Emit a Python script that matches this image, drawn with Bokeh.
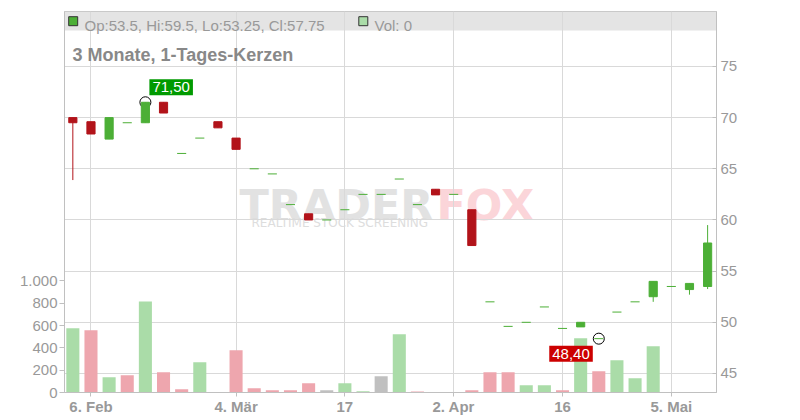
from bokeh.plotting import figure
from bokeh.models import Range1d, LinearAxis, FixedTicker, Label, BoxAnnotation, ColumnDataSource
from bokeh.embed import file_html
from bokeh.resources import INLINE

# ---------------- data ----------------
opens = [70.0, 69.6, 67.9, 69.5, 69.5, 71.5, 66.5, 68.0, 69.6, 68.0,
         65.0, 64.5, 61.5, 60.6, 60.0, 61.0, 62.5, 62.5, 64.0, 61.5,
         63.0, 62.5, 61.0, 52.0, 49.6, 50.0, 51.5, 49.4, 49.55, 48.4,
         51.0, 52.0, 52.5, 53.5, 53.2, 53.5]
highs = [70.0, 69.6, 70.0, 69.5, 71.5, 71.5, 66.5, 68.0, 69.6, 68.0,
         65.0, 64.5, 61.5, 60.6, 60.0, 61.0, 62.5, 62.5, 64.0, 61.5,
         63.0, 62.5, 61.0, 52.0, 49.6, 50.0, 51.5, 49.4, 50.0, 48.4,
         51.0, 52.0, 54.0, 53.5, 53.8, 59.5]
lows = [63.9, 68.4, 67.9, 69.5, 69.5, 70.45, 66.5, 68.0, 69.0, 66.9,
        65.0, 64.5, 61.5, 60.0, 60.0, 61.0, 62.5, 62.5, 64.0, 61.5,
        62.45, 62.5, 57.5, 52.0, 49.6, 50.0, 51.5, 49.4, 49.55, 48.4,
        51.0, 52.0, 52.0, 53.5, 52.7, 53.25]
closes = [69.5, 68.4, 70.0, 69.5, 71.5, 70.45, 66.5, 68.0, 69.0, 66.9,
          65.0, 64.5, 61.5, 60.0, 60.0, 61.0, 62.5, 62.5, 64.0, 61.5,
          62.45, 62.5, 57.5, 52.0, 49.6, 50.0, 51.5, 49.4, 50.0, 48.4,
          51.0, 52.0, 54.0, 53.5, 53.8, 57.75]
volumes = [575, 558, 137, 155, 815, 182, 30, 272, 0, 379,
           38, 20, 20, 83, 20, 83, 12, 146, 522, 10,
           0, 0, 20, 182, 182, 65, 65, 20, 487, 191,
           289, 128, 415, 0, 0, 0]
tick_idx = [1, 9, 15, 21, 27, 33]
tick_labels = ["6. Feb", "4. Mär", "17", "2. Apr", "16", "5. Mai"]
price_ticks = [45, 50, 55, 60, 65, 70, 75]
vol_ticks = [0, 200, 400, 600, 800, 1000]
vol_tick_labels = ["0", "200", "400", "600", "800", "1.000"]
title_text = "3 Monate, 1-Tages-Kerzen"

# ---------------- style / layout ----------------
GREEN = "#4caf36"
RED = "#b2131a"
VGREEN = "#aadca8"
VRED = "#eea6ae"
VGRAY = "#c0c0c0"
AXIS_GRAY = "#c0c0c0"
GRID = "#d9d9d9"
TXT = "#999999"
FONT = "Liberation Sans"

X_LO, X_HI = -0.46, 35.49
Y_LO, Y_HI = 43.14, 80.37
V_HI = 3415
FRAME_L, FRAME_T, FRAME_W, FRAME_H = 64, 11, 652, 381
FIG_W, FIG_H = 800, 420


def xd(px):
    return X_LO + (px - FRAME_L) * (X_HI - X_LO) / FRAME_W


def yd(py):
    return Y_HI - (py - FRAME_T) * (Y_HI - Y_LO) / FRAME_H


n = len(closes)
xs = list(range(n))
ccol = [GREEN if c >= o else RED for o, c in zip(opens, closes)]
vcol = []
for i in range(n):
    if i == 0 or closes[i] > closes[i - 1]:
        vcol.append(VGREEN)
    elif closes[i] < closes[i - 1]:
        vcol.append(VRED)
    else:
        vcol.append(VGRAY)

p = figure(width=FIG_W, height=FIG_H, output_backend="svg", toolbar_location=None,
           x_range=Range1d(X_LO, X_HI), y_range=Range1d(Y_LO, Y_HI),
           y_axis_location="right",
           min_border_left=FRAME_L, min_border_right=FIG_W - FRAME_L - FRAME_W,
           min_border_top=FRAME_T, min_border_bottom=FIG_H - FRAME_T - FRAME_H)
p.extra_y_ranges = {"vol": Range1d(0, V_HI)}
p.background_fill_color = "white"
p.border_fill_color = "white"
p.outline_line_color = AXIS_GRAY

# grids
p.xgrid.ticker = FixedTicker(ticks=tick_idx)
p.ygrid.ticker = FixedTicker(ticks=price_ticks)
p.xgrid.grid_line_color = GRID
p.ygrid.grid_line_color = GRID

# price axis (right)
ya = p.yaxis[0]
ya.ticker = FixedTicker(ticks=price_ticks)
ya.major_tick_in = 4
ya.major_tick_out = 0
ya.minor_tick_line_color = None
ya.axis_line_color = AXIS_GRAY
ya.major_tick_line_color = AXIS_GRAY
ya.major_label_text_color = TXT
ya.major_label_text_font = FONT
ya.major_label_text_font_size = "15px"
ya.major_label_standoff = 4

# volume axis (left)
va = LinearAxis(y_range_name="vol", ticker=FixedTicker(ticks=vol_ticks),
                major_label_overrides={t: l for t, l in zip(vol_ticks, vol_tick_labels)})
va.major_tick_in = 0
va.major_tick_out = 5
va.minor_tick_line_color = None
va.axis_line_color = AXIS_GRAY
va.major_tick_line_color = AXIS_GRAY
va.major_label_text_color = TXT
va.major_label_text_font = FONT
va.major_label_text_font_size = "15px"
va.major_label_standoff = 2
p.add_layout(va, "left")

# x axis
xa = p.xaxis[0]
xa.ticker = FixedTicker(ticks=tick_idx)
xa.major_label_overrides = {t: l for t, l in zip(tick_idx, tick_labels)}
xa.major_tick_in = 0
xa.major_tick_out = 4
xa.minor_tick_line_color = None
xa.axis_line_color = AXIS_GRAY
xa.major_tick_line_color = AXIS_GRAY
xa.major_label_text_color = TXT
xa.major_label_text_font = FONT
xa.major_label_text_font_size = "15px"
xa.major_label_text_font_style = "bold"
xa.major_label_standoff = 1

# header band + watermark
p.add_layout(BoxAnnotation(bottom=yd(30), fill_color="#e4e4e4", fill_alpha=1.0,
                           line_alpha=0, level="image"))
p.add_layout(Label(x=xd(239), y=yd(204), text="TRADER", text_font="DejaVu Sans",
                   text_font_style="bold", text_font_size="43px", text_color="#e2e2e2",
                   text_baseline="alphabetic", level="image"))
p.add_layout(Label(x=xd(436), y=yd(204), text="FOX", text_font="DejaVu Sans",
                   text_font_style="bold", text_font_size="43px", text_color="#fbd5d9",
                   text_baseline="alphabetic", level="image"))
p.add_layout(Label(x=xd(251), y=yd(222.5), text="REALTIME STOCK SCREENING", text_font="DejaVu Sans",
                   text_font_size="12px", text_color="#dddddd",
                   text_baseline="alphabetic", level="image"))

# volume bars
vsrc = ColumnDataSource(dict(x=xs, v=volumes, c=vcol))
p.vbar(x="x", top="v", bottom=0, width=0.72, y_range_name="vol", source=vsrc,
       fill_color="c", line_color=None)

# high / low markers
imax = max(range(n), key=lambda i: highs[i])
imin = min(range(n), key=lambda i: lows[i])
p.scatter(x=[imax, imin], y=[highs[imax], lows[imin]], marker="circle", size=11,
          fill_color=None, line_color="black", line_width=1)

# candles
csrc = ColumnDataSource(dict(x=xs, l=lows, h=highs, col=ccol))
p.segment(x0="x", y0="l", x1="x", y1="h", line_color="col", line_width=1, source=csrc)
body = [i for i in range(n) if opens[i] != closes[i]]
doji = [i for i in range(n) if opens[i] == closes[i]]
bsrc = ColumnDataSource(dict(x=[xs[i] for i in body],
                             top=[max(opens[i], closes[i]) for i in body],
                             bot=[min(opens[i], closes[i]) for i in body],
                             col=[ccol[i] for i in body]))
p.vbar(x="x", top="top", bottom="bot", width=0.45, source=bsrc,
       fill_color="col", line_color="col", line_width=1)
dsrc = ColumnDataSource(dict(x0=[xs[i] - 0.25 for i in doji], x1=[xs[i] + 0.25 for i in doji],
                             y=[closes[i] for i in doji]))
p.segment(x0="x0", y0="y", x1="x1", y1="y", line_color=GREEN, line_width=1, source=dsrc)


# high / low labels
def de(v):
    return f"{v:.2f}".replace(".", ",")


p.add_layout(Label(x=imax, y=highs[imax], text=de(highs[imax]), x_offset=4, y_offset=7,
                   text_align="left", text_baseline="bottom", text_color="white",
                   text_font=FONT, text_font_size="15px",
                   background_fill_color="#009a00", padding=3))
p.add_layout(Label(x=imin, y=lows[imin], text=de(lows[imin]), x_offset=-6, y_offset=-7,
                   text_align="right", text_baseline="top", text_color="white",
                   text_font=FONT, text_font_size="15px",
                   background_fill_color="#cc0000", padding=3))


# header legend + title
def fmt(v):
    return f"{v:g}"


p.scatter(x=[xd(72.7), xd(362.8)], y=[yd(20.7), yd(20.7)], marker="square", size=9,
          fill_color=[GREEN, VGREEN], line_color="#333333", line_width=1)
p.add_layout(Label(x=xd(84), y=yd(25), text=f"Op:{fmt(opens[-1])}, Hi:{fmt(highs[-1])}, Lo:{fmt(lows[-1])}, Cl:{fmt(closes[-1])}",
                   text_font=FONT, text_font_size="15px", text_color=TXT,
                   text_baseline="alphabetic"))
p.add_layout(Label(x=xd(374), y=yd(25), text=f"Vol: {fmt(volumes[-1])}",
                   text_font=FONT, text_font_size="15px", text_color=TXT,
                   text_baseline="alphabetic"))
p.add_layout(Label(x=xd(72), y=yd(54.3), text=title_text,
                   text_font=FONT, text_font_size="18px", text_font_style="bold",
                   text_color="#888888", text_baseline="alphabetic"))

open("out.html", "w").write(file_html(p, INLINE))
